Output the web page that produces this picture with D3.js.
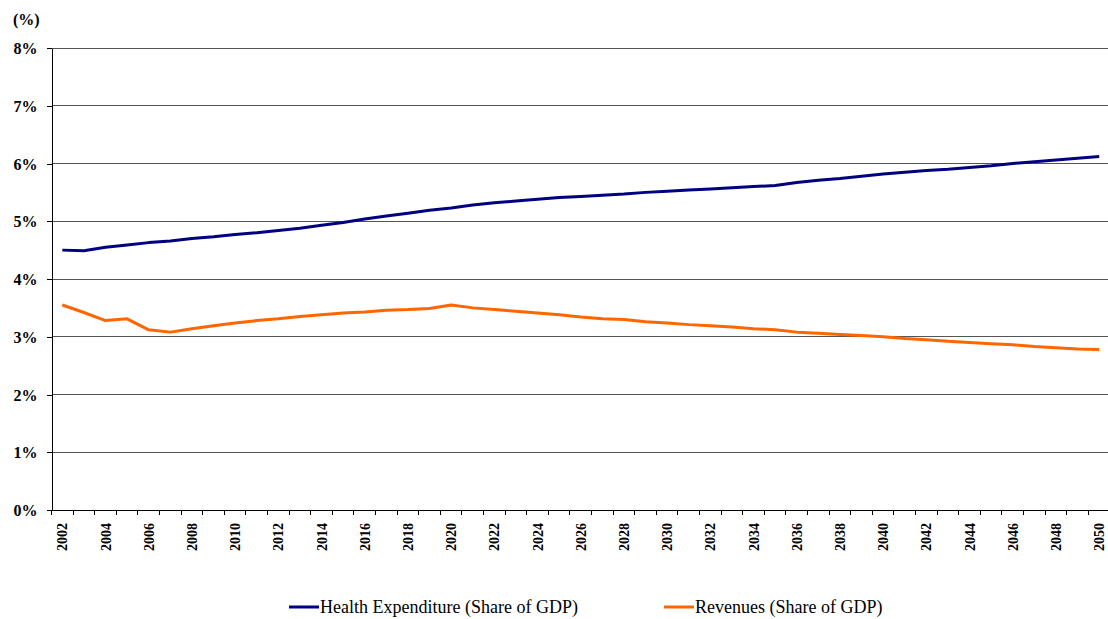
<!DOCTYPE html>
<html>
<head>
<meta charset="utf-8">
<script src="https://cdn.jsdelivr.net/npm/d3@7"></script>
<style>
  html, body { margin: 0; padding: 0; background: #fff; }
  svg { display: block; }
  text { font-family: "Liberation Serif", "Times New Roman", serif; }
</style>
</head>
<body>
<svg id="chart" width="1108" height="619"></svg>
<script>
// Years 2002–2050
const years = d3.range(2002, 2051);

// Health expenditure, share of GDP (%)
const healthExpenditure = [
  4.50, 4.49, 4.55, 4.59, 4.63, 4.66, 4.70, 4.73, 4.77, 4.80,
  4.84, 4.88, 4.93, 4.98, 5.04, 5.09, 5.14, 5.19, 5.23, 5.28,
  5.32, 5.35, 5.38, 5.41, 5.43, 5.45, 5.47, 5.50, 5.52, 5.54,
  5.56, 5.58, 5.60, 5.62, 5.67, 5.71, 5.74, 5.78, 5.82, 5.85,
  5.88, 5.90, 5.93, 5.96, 6.00, 6.03, 6.06, 6.09, 6.12
];

// Revenues, share of GDP (%)
const revenues = [
  3.55, 3.42, 3.28, 3.31, 3.12, 3.08, 3.14, 3.19, 3.24, 3.28,
  3.31, 3.35, 3.38, 3.41, 3.43, 3.46, 3.47, 3.49, 3.55, 3.50,
  3.47, 3.44, 3.41, 3.38, 3.34, 3.31, 3.30, 3.26, 3.24, 3.21,
  3.19, 3.17, 3.14, 3.12, 3.08, 3.06, 3.04, 3.02, 3.00, 2.97,
  2.95, 2.92, 2.90, 2.88, 2.86, 2.83, 2.81, 2.79, 2.78
];

const yTicks = [0, 1, 2, 3, 4, 5, 6, 7, 8];
const seriesNames = ["Health Expenditure (Share of GDP)", "Revenues (Share of GDP)"];
const seriesColors = ["#000080", "#FF6600"];

const svg = d3.select("#chart");
const plot = { left: 51.5, right: 1110, top: 48, bottom: 510 };

const x = d3.scaleBand().domain(years).range([plot.left, plot.right]).padding(0);
const y = d3.scaleLinear().domain([0, 8]).range([plot.bottom, plot.top]);
const cx = yr => x(yr) + x.bandwidth() / 2;

// Horizontal gridlines
svg.append("g")
  .selectAll("line")
  .data(yTicks.filter(v => v > 0))
  .join("line")
  .attr("x1", plot.left).attr("x2", 1108)
  .attr("y1", v => y(v)).attr("y2", v => y(v))
  .attr("stroke", "#555").attr("stroke-width", 1)
  .attr("shape-rendering", "crispEdges");

// Y axis
const yAxis = svg.append("g")
  .attr("transform", `translate(${plot.left},0)`)
  .call(d3.axisLeft(y).tickValues(yTicks).tickFormat(v => v + "%").tickSize(5).tickSizeOuter(0))
  .attr("shape-rendering", "crispEdges");
yAxis.select(".domain").attr("stroke", "#000");
yAxis.selectAll(".tick line").attr("stroke", "#000");
yAxis.selectAll(".tick text")
  .attr("x", -14)
  .attr("dy", "0.35em")
  .attr("fill", "#000")
  .style("font-family", "'Liberation Serif', 'Times New Roman', serif")
  .style("font-weight", "bold")
  .style("font-size", "16px");

// X axis: ticks on category boundaries, labels every other year
const xAxisG = svg.append("g")
  .attr("transform", `translate(0,${plot.bottom})`)
  .attr("shape-rendering", "crispEdges");
xAxisG.append("line")
  .attr("x1", plot.left).attr("x2", 1108)
  .attr("y1", 0).attr("y2", 0)
  .attr("stroke", "#000");
xAxisG.selectAll("line.tk")
  .data(years)
  .join("line")
  .attr("class", "tk")
  .attr("x1", d => x(d)).attr("x2", d => x(d))
  .attr("y1", 0).attr("y2", 5)
  .attr("stroke", "#000");
xAxisG.selectAll("text")
  .data(years.filter(d => d % 2 === 0))
  .join("text")
  .attr("transform", d => `translate(${cx(d) + 5},13) rotate(-90)`)
  .attr("text-anchor", "end")
  .attr("fill", "#000")
  .style("font-weight", "bold")
  .style("font-size", "14px")
  .text(d => d);

// Unit label
svg.append("text")
  .attr("x", 13).attr("y", 25)
  .style("font-weight", "bold")
  .style("font-size", "16px")
  .text("(%)");

// Series lines
const line = d3.line()
  .x((d, i) => cx(years[i]))
  .y(d => y(d));

[healthExpenditure, revenues].forEach((vals, i) => {
  svg.append("path")
    .datum(vals)
    .attr("d", line)
    .attr("fill", "none")
    .attr("stroke", seriesColors[i])
    .attr("stroke-width", 3)
    .attr("stroke-linejoin", "round");
});

// Legend
const legendX = [289, 664];
const legend = svg.append("g");
seriesNames.forEach((name, i) => {
  const g = legend.append("g").attr("transform", `translate(${legendX[i]},607)`);
  g.append("line")
    .attr("x1", 0).attr("x2", 30)
    .attr("y1", 0).attr("y2", 0)
    .attr("stroke", seriesColors[i])
    .attr("stroke-width", 3);
  g.append("text")
    .attr("x", 31).attr("y", 0)
    .attr("dy", "0.35em")
    .style("font-size", "18px")
    .text(name);
});
</script>
</body>
</html>
